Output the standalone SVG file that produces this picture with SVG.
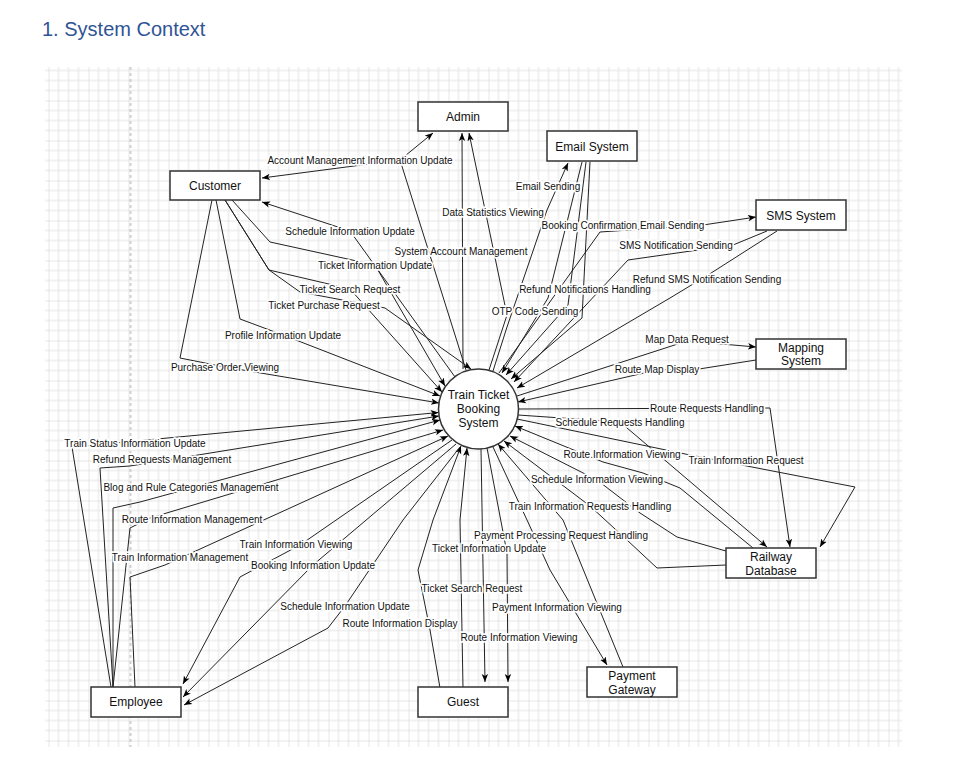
<svg xmlns="http://www.w3.org/2000/svg" width="972" height="779" viewBox="0 0 972 779">
<defs>
<style>
.title{font-family:"Liberation Sans",Arial,sans-serif;font-size:20px;fill:#2F5496}
.box{fill:#fff;stroke:#333;stroke-width:1.5}
.ntext{font-family:"Liberation Sans",Arial,sans-serif;font-size:12px;fill:#111;text-anchor:middle}
.e{fill:none;stroke:#222;stroke-width:1}
.a{marker-end:url(#arr)}
.lbl{font-family:"Liberation Sans",Arial,sans-serif;font-size:10px;fill:#111;text-anchor:middle;stroke:#fff;stroke-width:3.5;paint-order:stroke;stroke-linejoin:round}
</style>
<marker id="arr" viewBox="0 0 10 10" refX="10" refY="5" markerWidth="8" markerHeight="8" markerUnits="userSpaceOnUse" orient="auto">
<path d="M0,1 L10,5 L0,9 L2.5,5 z" fill="#000"/>
</marker>
<pattern id="grid" width="40" height="40" patternUnits="userSpaceOnUse" x="8.5" y="20.5">
<path d="M10 0V40M20 0V40M30 0V40M0 10H40M0 20H40M0 30H40" stroke="#e3e3e3" stroke-width="1" fill="none"/>
<path d="M0 0V40M0 0H40" stroke="#cfcfcf" stroke-width="1" fill="none"/>
</pattern>
</defs>
<rect width="972" height="779" fill="#fff"/>
<text class="title" x="42" y="36">1. System Context</text>
<rect x="45" y="67" width="857" height="680" fill="url(#grid)"/>
<line x1="130.5" y1="67" x2="130.5" y2="747" stroke="#cfcfcf" stroke-width="2" stroke-dasharray="3,3"/>

<g id="connectors">
<!-- Customer -->
<path class="e a" d="M466,370 L400,160 L433,133"/>
<path class="e a" d="M400,160 L262,178"/>
<path class="e a" d="M455,377 L350,231 L262,202"/>
<path class="e a" d="M232,200 L270,242 L375,265 L445,386"/>
<path class="e a" d="M225,200 L269,270 L350,289 L442,392"/>
<path class="e a" d="M225,200 L269,270 L300,292 L385,308 L471,369"/>
<path class="e a" d="M216,200 L240,319 L283,335 L440,396"/>
<path class="e a" d="M212,200 L180,358 L225,367 L439,403"/>
<!-- Admin -->
<path class="e a" d="M463,369 L462,133"/>
<path class="e a" d="M489,370 L507,315 L469,133"/>
<!-- Email -->
<path class="e a" d="M493,371 L507,327 L547,210 L568,163"/>
<path class="e a" d="M499,373 L600,232 L703,225 L756,217"/>
<path class="e a" d="M590,162 L582,318 L511,379"/>
<path class="e a" d="M586,162 L568,305 L506,375"/>
<path class="e a" d="M582,162 L548,298 L502,373"/>
<!-- SMS -->
<path class="e a" d="M767,231 L733,245 L628,260 L514,382"/>
<path class="e a" d="M777,231 L708,275 L670,298 L517,388"/>
<!-- Mapping -->
<path class="e a" d="M517,396 L687,341 L756,347"/>
<path class="e a" d="M756,360 L699,369 L657,370 L518,402"/>
<!-- Railway -->
<path class="e a" d="M518.5,409 L770,408 L790,547"/>
<path class="e a" d="M518,415 L620,422 L767,547"/>
<path class="e a" d="M517,419 L690,455 L855,487 L820,547"/>
<path class="e a" d="M753,548 L680,488 L643,473 L603,462 L515,426"/>
<path class="e a" d="M726,551 L677,537 L640,513 L597,480 L510,436"/>
<path class="e a" d="M726,565 L657,568 L627,540 L590,506 L504,441"/>
<!-- Payment Gateway -->
<path class="e a" d="M623,667 L563,520 L498,444"/>
<path class="e a" d="M493,447 L527,520 L550,570 L607,665"/>
<!-- Guest -->
<path class="e a" d="M440,688 L430,630 L418,570 L433,520 L461,446"/>
<path class="e a" d="M463,688 L460,520 L467,448"/>
<path class="e a" d="M481,449 L485,682"/>
<path class="e a" d="M487,448 L507,553 L508,682"/>
<!-- Employee -->
<path class="e a" d="M111,687 L72,447 L438.6,412.5"/>
<path class="e a" d="M113,687 L100,468 L130,466 L439,416"/>
<path class="e a" d="M113,687 L113,508 L140,502 L440,420"/>
<path class="e a" d="M113,687 L130,528 L150,518 L443,430"/>
<path class="e a" d="M135,687 L130,577 L165,565 L448,436"/>
<path class="e a" d="M452,440 L300,545 L240,577 L183,684"/>
<path class="e a" d="M456,444 L313,565 L183,697"/>
<path class="e a" d="M460,447 L403,520 L345,606 L328,628 L184,705"/>

<!-- labels -->
<text class="lbl" x="360" y="163.5">Account Management Information Update</text>
<text class="lbl" x="350" y="234.5">Schedule Information Update</text>
<text class="lbl" x="461" y="254.5">System Account Management</text>
<text class="lbl" x="375" y="268.5">Ticket Information Update</text>
<text class="lbl" x="350" y="292.5">Ticket Search Request</text>
<text class="lbl" x="324" y="308.5">Ticket Purchase Request</text>
<text class="lbl" x="283" y="338.5">Profile Information Update</text>
<text class="lbl" x="225" y="370.5">Purchase Order Viewing</text>
<text class="lbl" x="493" y="215.5">Data Statistics Viewing</text>
<text class="lbl" x="548" y="189.5">Email Sending</text>
<text class="lbl" x="623" y="228.5">Booking Confirmation Email Sending</text>
<text class="lbl" x="676" y="248.5">SMS Notification Sending</text>
<text class="lbl" x="707" y="282.5">Refund SMS Notification Sending</text>
<text class="lbl" x="585" y="292.5">Refund Notifications Handling</text>
<text class="lbl" x="535" y="314.5">OTP Code Sending</text>
<text class="lbl" x="687" y="342.5">Map Data Request</text>
<text class="lbl" x="657" y="372.5">Route Map Display</text>
<text class="lbl" x="707" y="411.5">Route Requests Handling</text>
<text class="lbl" x="620" y="425.5">Schedule Requests Handling</text>
<text class="lbl" x="622" y="457.5">Route Information Viewing</text>
<text class="lbl" x="746" y="463.5">Train Information Request</text>
<text class="lbl" x="597" y="482.5">Schedule Information Viewing</text>
<text class="lbl" x="590" y="509.5">Train Information Requests Handling</text>
<text class="lbl" x="561" y="538.5">Payment Processing Request Handling</text>
<text class="lbl" x="489" y="551.5">Ticket Information Update</text>
<text class="lbl" x="472" y="591.5">Ticket Search Request</text>
<text class="lbl" x="557" y="610.5">Payment Information Viewing</text>
<text class="lbl" x="400" y="626.5">Route Information Display</text>
<text class="lbl" x="519" y="640.5">Route Information Viewing</text>
<text class="lbl" x="345" y="609.5">Schedule Information Update</text>
<text class="lbl" x="313" y="568.5">Booking Information Update</text>
<text class="lbl" x="296" y="547.5">Train Information Viewing</text>
<text class="lbl" x="180" y="560.5">Train Information Management</text>
<text class="lbl" x="192" y="522.5">Route Information Management</text>
<text class="lbl" x="191" y="490.5">Blog and Rule Categories Management</text>
<text class="lbl" x="162" y="462.5">Refund Requests Management</text>
<text class="lbl" x="135" y="446.5">Train Status Information Update</text>
</g>

<g id="admin"><rect class="box" x="418" y="102" width="90" height="29"/><text class="ntext" x="463" y="120.5">Admin</text></g>
<g id="email-system"><rect class="box" x="547" y="131" width="90" height="30"/><text class="ntext" x="592" y="150.5">Email System</text></g>
<g id="customer"><rect class="box" x="170" y="171" width="90" height="29"/><text class="ntext" x="215" y="189.5">Customer</text></g>
<g id="sms-system"><rect class="box" x="756" y="200" width="90" height="30"/><text class="ntext" x="801" y="219.5">SMS System</text></g>
<g id="mapping-system"><rect class="box" x="756" y="339" width="90" height="30"/><text class="ntext" x="801" y="352">Mapping</text><text class="ntext" x="801" y="365">System</text></g>
<g id="train-ticket-booking-system"><circle class="box" cx="478.5" cy="409" r="40"/><text class="ntext" x="478.5" y="399">Train Ticket</text><text class="ntext" x="478.5" y="413">Booking</text><text class="ntext" x="478.5" y="427">System</text></g>
<g id="railway-database"><rect class="box" x="726" y="548" width="90" height="30"/><text class="ntext" x="771" y="561">Railway</text><text class="ntext" x="771" y="575">Database</text></g>
<g id="payment-gateway"><rect class="box" x="587" y="667" width="90" height="30"/><text class="ntext" x="632" y="680">Payment</text><text class="ntext" x="632" y="694">Gateway</text></g>
<g id="guest"><rect class="box" x="418" y="687" width="90" height="30"/><text class="ntext" x="463" y="706">Guest</text></g>
<g id="employee"><rect class="box" x="91" y="687" width="90" height="30"/><text class="ntext" x="136" y="706">Employee</text></g>
</svg>
